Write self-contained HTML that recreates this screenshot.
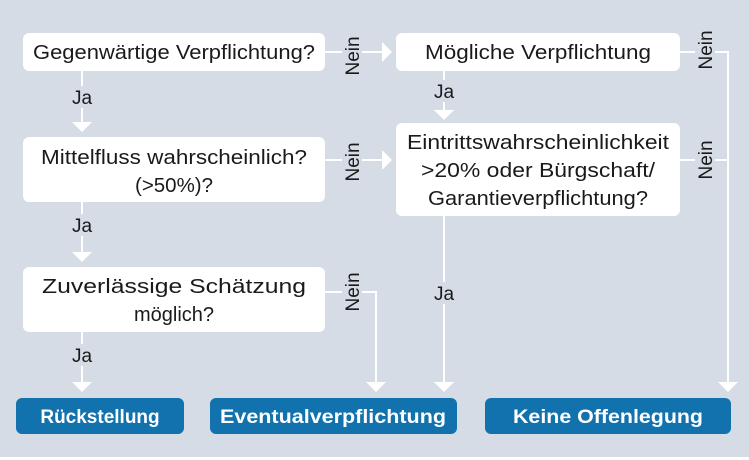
<!DOCTYPE html>
<html><head><meta charset="utf-8"><style>
html,body{margin:0;padding:0;background:#d5dce6}
svg{display:block}
text{font-family:"Liberation Sans",sans-serif}
</style></head><body>
<svg width="749" height="460" viewBox="0 0 749 460" xmlns="http://www.w3.org/2000/svg">
<rect width="749" height="460" fill="#d5dce6"/>
<rect x="0" y="457" width="749" height="3" fill="#ffffff"/>
<g fill="#fff">
<rect x="23" y="33" width="302" height="38" rx="6"/>
<rect x="23" y="137" width="302" height="65" rx="6"/>
<rect x="23" y="267" width="302" height="65" rx="6"/>
<rect x="396" y="33" width="284" height="38" rx="6"/>
<rect x="396" y="123" width="284" height="93" rx="6"/>
</g>
<g fill="#1172ae">
<rect x="16" y="398" width="168" height="36" rx="6"/>
<rect x="210" y="398" width="247" height="36" rx="6"/>
<rect x="485" y="398" width="246" height="36" rx="6"/>
</g>
<g stroke="#fff" stroke-width="2" fill="none">
<path d="M82 71V122"/><path d="M82 202V252"/><path d="M82 332V382"/>
<path d="M325 52H382"/><path d="M325 160H382"/>
<path d="M325 292H376V382"/>
<path d="M444 71V110"/><path d="M444 216V382"/>
<path d="M680 52H728V382"/><path d="M680 160H728"/>
</g>
<g fill="#fff">
<path d="M72 122H92L82 132Z"/><path d="M72 252H92L82 262Z"/><path d="M72 382H92L82 392Z"/>
<path d="M382 42V62L392 52Z"/><path d="M382 150V170L392 160Z"/>
<path d="M366 382H386L376 392Z"/><path d="M434 110H454L444 120Z"/><path d="M434 382H454L444 392Z"/>
<path d="M718 382H738L728 392Z"/>
</g>
<g fill="#d5dce6">
<rect x="70" y="86" width="26" height="22"/><rect x="70" y="214" width="26" height="22"/><rect x="70" y="344" width="26" height="22"/>
<rect x="430" y="80" width="28" height="22"/><rect x="430" y="282" width="28" height="22"/>
<rect x="342" y="34" width="20" height="44"/><rect x="342" y="140" width="20" height="44"/><rect x="342" y="270" width="20" height="44"/>
<rect x="695" y="28" width="20" height="44"/><rect x="695" y="138" width="20" height="44"/>
</g>
<g font-size="20" fill="#1a1a1a" text-anchor="middle">
<text x="174" y="59" textLength="282" lengthAdjust="spacingAndGlyphs">Gegenwärtige Verpflichtung?</text>
<text x="174" y="164" textLength="266" lengthAdjust="spacingAndGlyphs">Mittelfluss wahrscheinlich?</text>
<text x="174" y="192" textLength="78" lengthAdjust="spacingAndGlyphs">(&gt;50%)?</text>
<text x="174" y="293" textLength="264" lengthAdjust="spacingAndGlyphs">Zuverlässige Schätzung</text>
<text x="174" y="321">möglich?</text>
<text x="538" y="59" textLength="226" lengthAdjust="spacingAndGlyphs">Mögliche Verpflichtung</text>
<text x="538" y="149" textLength="262" lengthAdjust="spacingAndGlyphs">Eintrittswahrscheinlichkeit</text>
<text x="538" y="177" textLength="234" lengthAdjust="spacingAndGlyphs">&gt;20% oder Bürgschaft/</text>
<text x="538" y="205" textLength="220" lengthAdjust="spacingAndGlyphs">Garantieverpflichtung?</text>
<g font-size="19">
<text x="82" y="104">Ja</text><text x="82" y="232">Ja</text><text x="82" y="362">Ja</text>
<text x="444" y="98">Ja</text><text x="444" y="300">Ja</text>
<text transform="translate(359 56) rotate(-90)">Nein</text>
<text transform="translate(359 162) rotate(-90)">Nein</text>
<text transform="translate(359 292) rotate(-90)">Nein</text>
<text transform="translate(712 50) rotate(-90)">Nein</text>
<text transform="translate(712 160) rotate(-90)">Nein</text>
</g>
</g>
<g font-size="19" font-weight="bold" fill="#fff" text-anchor="middle">
<text x="100" y="423">Rückstellung</text>
<text x="333" y="423" textLength="226" lengthAdjust="spacingAndGlyphs">Eventualverpflichtung</text>
<text x="608" y="423" textLength="190" lengthAdjust="spacingAndGlyphs">Keine Offenlegung</text>
</g>
</svg>
</body></html>
